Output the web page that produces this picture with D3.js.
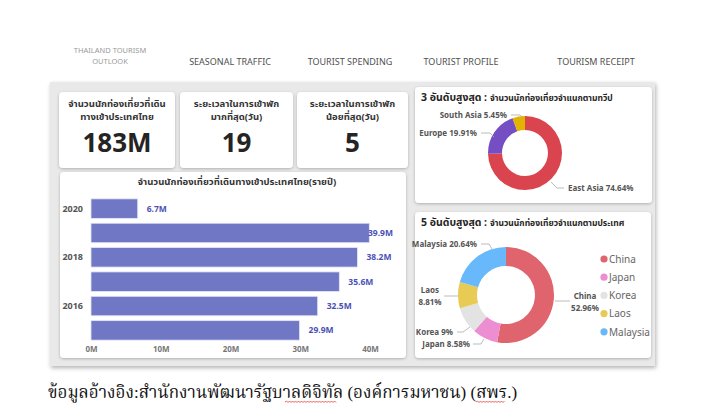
<!DOCTYPE html>
<html><head><meta charset="utf-8">
<script src="https://cdn.jsdelivr.net/npm/d3@7"></script>
<style>
html,body{margin:0;padding:0;background:#fff;}
svg{display:block;font-family:"Noto Sans","Noto Sans Thai","DejaVu Sans",sans-serif;}
</style></head>
<body><svg id="c" width="708" height="420"></svg>
<script>
// ---- data ----
const navItems = ["SEASONAL TRAFFIC","TOURIST SPENDING","TOURIST PROFILE","TOURISM RECEIPT"];
const kpiTitles = [["จำนวนนักท่องเที่ยวที่เดิน","ทางเข้าประเทศไทย"],["ระยะเวลาในการเข้าพัก","มากที่สุด(วัน)"],["ระยะเวลาในการเข้าพัก","น้อยที่สุด(วัน)"]];
const kpiValues = ["183M","19","5"];
const years = [2020,2019,2018,2017,2016,2015];
const yearTickLabels = [2020,2018,2016];
const arrivals = [6.7,39.9,38.2,35.6,32.5,29.9]; // millions
const xTicks = [0,10,20,30,40];
const continents = ["East Asia","Europe","South Asia"];
const continentShare = [74.64,19.91,5.45];
const continentColors = ["#d9444f","#744ec2","#e0b400"];
const countries = ["China","Japan","Korea","Laos","Malaysia"];
const countryShare = [52.96,8.58,9,8.81,20.64];
const countryColors = ["#e0646d","#ee8ed2","#e3e3e3","#e8cb55","#68b8fc"];

const svg = d3.select("#c");
const defs = svg.append("defs");
const f = defs.append("filter").attr("id","sh").attr("x","-10%").attr("y","-10%").attr("width","120%").attr("height","130%");
f.append("feDropShadow").attr("dx",0).attr("dy",1).attr("stdDeviation",1.5).attr("flood-color","#000").attr("flood-opacity",0.25);
const f2 = defs.append("filter").attr("id","sh2").attr("x","-5%").attr("y","-5%").attr("width","110%").attr("height","115%");
f2.append("feDropShadow").attr("dx",1).attr("dy",2).attr("stdDeviation",2).attr("flood-color","#000").attr("flood-opacity",0.3);

// nav
svg.append("text").attr("x",110).attr("y",53).attr("text-anchor","middle").attr("font-size",7.5).attr("fill","#9a9a9a").text("THAILAND TOURISM");
svg.append("text").attr("x",110).attr("y",64).attr("text-anchor","middle").attr("font-size",7.5).attr("fill","#9a9a9a").text("OUTLOOK");
const navX = [230,350,461,596];
navItems.forEach((t,i)=>svg.append("text").attr("x",navX[i]).attr("y",65).attr("text-anchor","middle").attr("font-size",9).attr("fill","#505050").text(t));

// panel background
svg.append("rect").attr("x",50).attr("y",82).attr("width",605).attr("height",284).attr("fill","#e9e9e9").attr("filter","url(#sh2)");

function card(x,y,w,h){ return svg.append("rect").attr("x",x).attr("y",y).attr("width",w).attr("height",h).attr("rx",4).attr("fill","#fff").attr("filter","url(#sh)"); }

// KPI cards
const kpiX = [59,180,297], kpiW=[116,113,111];
kpiTitles.forEach((t,i)=>{
  card(kpiX[i],92,kpiW[i],76);
  const cx = kpiX[i]+kpiW[i]/2;
  svg.append("text").attr("x",cx).attr("y",107).attr("text-anchor","middle").attr("font-size",9.5).attr("font-weight","bold").attr("fill","#333").text(t[0]);
  svg.append("text").attr("x",cx).attr("y",120).attr("text-anchor","middle").attr("font-size",9.5).attr("font-weight","bold").attr("fill","#333").text(t[1]);
  svg.append("text").attr("x",cx).attr("y",152).attr("text-anchor","middle").attr("font-size",26).attr("font-weight","bold").attr("fill","#252423").text(kpiValues[i]);
});

// bar card
card(60,172,346,186);
svg.append("text").attr("x",237).attr("y",185).attr("text-anchor","middle").attr("font-size",9.5).attr("font-weight","bold").attr("fill","#333").text("จำนวนนักท่องเที่ยวที่เดินทางเข้าประเทศไทย(รายปี)");
const x = d3.scaleLinear().domain([0,40]).range([91,370]);
const y = d3.scaleBand().domain(years).range([194,345]).padding(0.2);
svg.append("g").selectAll("rect").data(years).join("rect")
  .attr("x",x(0)).attr("y",d=>y(d)).attr("width",(d,i)=>x(arrivals[i])-x(0)).attr("height",y.bandwidth())
  .attr("fill","#7077c5").attr("stroke","#e4e6f6").attr("stroke-width",0.8);
svg.append("g").selectAll("text").data(years).join("text")
  .attr("x",(d,i)=>Math.min(x(arrivals[i])+9,368)).attr("y",d=>y(d)+y.bandwidth()/2+3)
  .attr("font-size",8.5).attr("font-weight","bold").attr("fill","#4b52b5").text((d,i)=>arrivals[i]+"M");
const xAxis = svg.append("g").attr("transform","translate(0,343)").call(d3.axisBottom(x).tickValues(xTicks).tickFormat(d=>d+"M").tickSize(0));
xAxis.select(".domain").remove();
xAxis.selectAll("text").attr("font-size",8).attr("font-weight","bold").attr("fill","#777").attr("font-family","Noto Sans");
const yAxis = svg.append("g").attr("transform","translate(86,0)").call(d3.axisLeft(y).tickValues(yearTickLabels).tickSize(0));
yAxis.select(".domain").remove();
yAxis.selectAll("text").attr("font-size",9).attr("font-weight","bold").attr("fill","#555").attr("font-family","Noto Sans");

// donut helpers
function donut(cx,cy,ro,ri,vals,cols){
  const pie = d3.pie().sort(null).value(d=>d)(vals);
  const arc = d3.arc().outerRadius(ro).innerRadius(ri);
  svg.append("g").attr("transform",`translate(${cx},${cy})`).selectAll("path").data(pie).join("path").attr("d",arc).attr("fill",(d,i)=>cols[i]);
  return pie;
}
function title(x0,yb,num,rest){
  const t = svg.append("text").attr("x",x0).attr("y",yb).attr("font-weight","bold").attr("fill","#252423");
  t.append("tspan").attr("font-size",10.5).text(num);
  t.append("tspan").attr("font-size",8.5).attr("dx",3).text(rest);
}
function leader(pts){ svg.append("path").attr("d",d3.line()(pts)).attr("fill","none").attr("stroke","#aaa").attr("stroke-width",0.8); }
function lbl(x0,y0,t,anchor){ svg.append("text").attr("x",x0).attr("y",y0).attr("text-anchor",anchor||"start").attr("font-size",8).attr("font-weight","bold").attr("fill","#555").text(t); }

// continent donut
card(415,87,237,116);
title(421,101,"3 อันดับสูงสุด :","จำนวนนักท่องเที่ยวจำแนกตามทวีป");
donut(525,153,37,23,continentShare,continentColors);
lbl(507,118,continents[2]+" "+continentShare[2]+"%","end");
leader([[511,115],[520,115],[523,118]]);
lbl(477,136,continents[1]+" "+continentShare[1]+"%","end");
leader([[481,133],[490,133],[494,137]]);
lbl(568,191,continents[0]+" "+continentShare[0]+"%","start");
leader([[564,188],[557,188],[551,182]]);

// country donut
card(415,212,236,146);
title(421,226,"5 อันดับสูงสุด :","จำนวนนักท่องเที่ยวจำแนกตามประเทศ");
donut(506,295,48,29,countryShare,countryColors);
lbl(477,247,countries[4]+" "+countryShare[4]+"%","end");
leader([[481,244],[489,244],[492,249]]);
lbl(430,293,countries[3],"middle");
lbl(430,305,countryShare[3]+"%","middle");
leader([[444,296],[458,296]]);
lbl(453,335,countries[2]+" "+countryShare[2]+"%","end");
leader([[457,332],[463,332],[470,327]]);
lbl(470,347,countries[1]+" "+countryShare[1]+"%","end");
leader([[473,344],[481,344],[484,339]]);
lbl(585,299,countries[0],"middle");
lbl(585,311,countryShare[0]+"%","middle");
leader([[570,301],[555,301]]);
// legend
const lg = svg.append("g").selectAll("g").data(countries).join("g").attr("transform",(d,i)=>`translate(604,${259+i*18.2})`);
lg.append("circle").attr("r",3.6).attr("fill",(d,i)=>countryColors[i]);
lg.append("text").attr("x",5).attr("y",3.8).attr("font-size",10).attr("fill","#666").text(d=>d);

// footer
svg.append("text").attr("x",48).attr("y",398).attr("font-size",17).attr("fill","#111").attr("font-family","'Liberation Serif','Noto Serif Thai','Noto Sans Thai',serif").text("ข้อมูลอ้างอิง:สำนักงานพัฒนารัฐบาลดิจิทัล (องค์การมหาชน) (สพร.)");
// spellcheck squiggles
function squiggle(x0,x1,yy){
  let d=`M${x0},${yy}`; let up=true;
  for(let xx=x0+1.5; xx<=x1; xx+=1.5){ d+=`L${xx},${yy+(up?-1:0.5)}`; up=!up; }
  svg.append("path").attr("d",d).attr("fill","none").attr("stroke","#e02020").attr("stroke-width",0.7);
}
squiggle(285,336,402);
squiggle(476,505,402);
</script></body></html>
